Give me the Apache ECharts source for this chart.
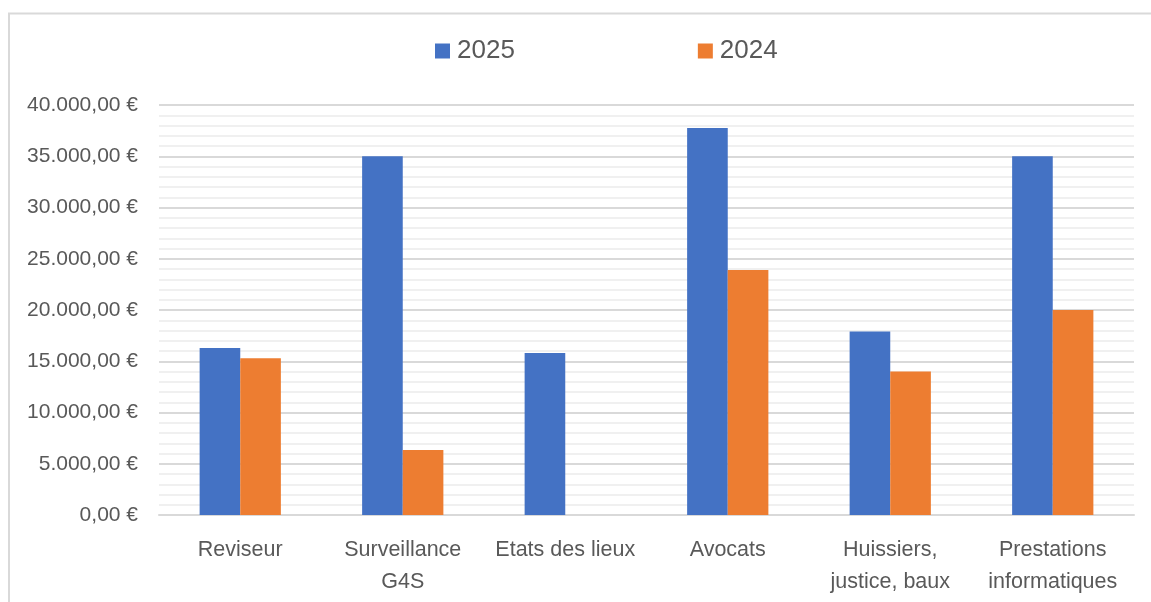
<!DOCTYPE html>
<html>
<head>
<meta charset="utf-8">
<script src="https://cdn.jsdelivr.net/npm/echarts@6/dist/echarts.min.js"></script>
<style>
  html, body { margin: 0; padding: 0; background: #fff; }
  #chart { width: 1151px; height: 602px; }
</style>
</head>
<body>
<div id="chart"></div>
<script>
const categories = [
  'Reviseur',
  'Surveillance\nG4S',
  'Etats des lieux',
  'Avocats',
  'Huissiers,\njustice, baux',
  'Prestations\ninformatiques',
]
const values2025 = [16300, 35000, 15800, 37750, 17900, 35000]
const values2024 = [15300, 6350, 0, 23900, 14000, 20000]

const fontFamily = '"Liberation Sans", Arial, sans-serif'
const textColor = '#595959'

// 40000 -> 40.000,00 €
const formatEuro = (value) => {
  const parts = Math.round(value).toString().replace(/\B(?=(\d{3})+(?!\d))/g, '.')
  return parts + ',00\u00a0€'
}

const chart = echarts.init(document.getElementById('chart'))

chart.setOption({
  animation: false,
  textStyle: { fontFamily },
  graphic: [
    {
      type: 'rect',
      shape: { x: 9, y: 13.5, width: 1160, height: 620 },
      style: { fill: 'none', stroke: '#d9d9d9', lineWidth: 2 },
      silent: true,
    },
  ],
  legend: {
    data: ['2025', '2024'],
    left: 430,
    top: 33,
    itemWidth: 15,
    itemHeight: 15,
    itemGap: 183,
    icon: 'rect',
    textStyle: { color: textColor, fontSize: 26, fontFamily, padding: [0, 0, 0, 2] },
  },
  grid: {
    left: 159,
    right: 17,
    top: 105,
    bottom: 87,
    containLabel: false,
  },
  xAxis: {
    type: 'category',
    data: categories,
    axisLine: { lineStyle: { color: '#d9d9d9', width: 2 } },
    axisTick: { show: false },
    axisLabel: {
      color: textColor,
      fontSize: 21.5,
      lineHeight: 32,
      margin: 19,
      interval: 0,
      fontFamily,
    },
  },
  yAxis: {
    type: 'value',
    min: 0,
    max: 40000,
    interval: 5000,
    axisLine: { show: false },
    axisTick: { show: false },
    axisLabel: {
      color: textColor,
      fontSize: 21,
      margin: 21,
      fontFamily,
      formatter: formatEuro,
    },
    splitLine: { lineStyle: { color: '#d9d9d9', width: 2 } },
    minorTick: { show: false, splitNumber: 5 },
    minorSplitLine: { show: true, lineStyle: { color: '#f0f0f0', width: 2 } },
  },
  series: [
    {
      name: '2025',
      type: 'bar',
      data: values2025,
      barWidth: '25%',
      barGap: '0%',
      barCategoryGap: '50%',
      itemStyle: { color: '#4472c4' },
    },
    {
      name: '2024',
      type: 'bar',
      data: values2024,
      barWidth: '25%',
      barGap: '0%',
      itemStyle: { color: '#ed7d31' },
    },
  ],
})
</script>
</body>
</html>
